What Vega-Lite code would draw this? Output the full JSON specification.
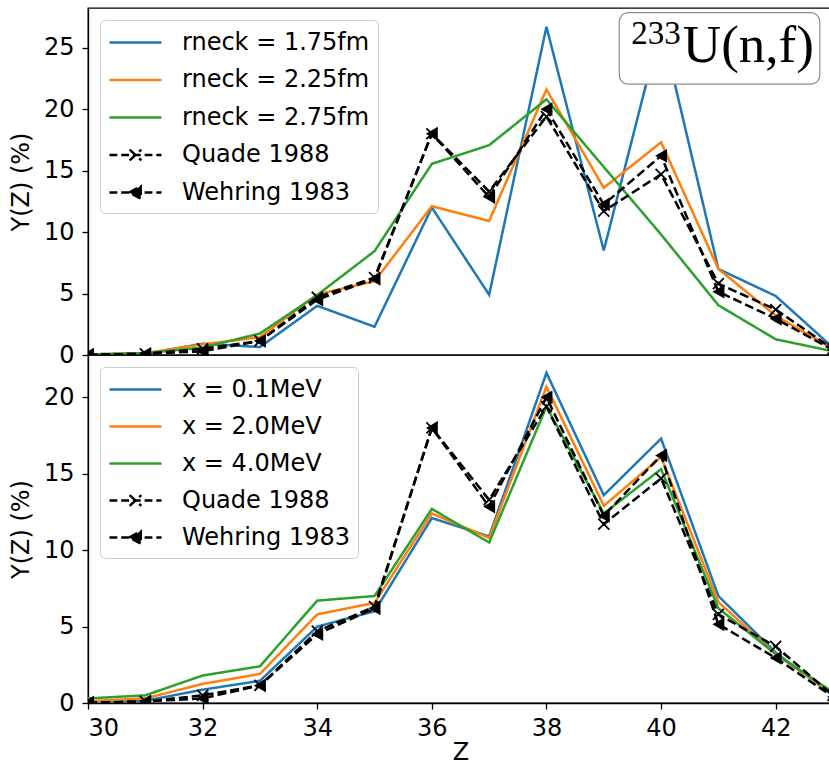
{
  "$schema": "https://vega.github.io/schema/vega-lite/v6.json",
  "padding": {"left": 8, "top": 7, "right": 0, "bottom": 0},
  "background": "white",
  "datasets": {
    "top": [
      {"Z":30,"Y":0.05,"series":"rneck = 1.75fm"},{"Z":31,"Y":0.1,"series":"rneck = 1.75fm"},{"Z":32,"Y":0.92,"series":"rneck = 1.75fm"},{"Z":33,"Y":0.65,"series":"rneck = 1.75fm"},{"Z":34,"Y":4.0,"series":"rneck = 1.75fm"},{"Z":35,"Y":2.3,"series":"rneck = 1.75fm"},{"Z":36,"Y":12.0,"series":"rneck = 1.75fm"},{"Z":37,"Y":4.9,"series":"rneck = 1.75fm"},{"Z":38,"Y":26.7,"series":"rneck = 1.75fm"},{"Z":39,"Y":8.5,"series":"rneck = 1.75fm"},{"Z":40,"Y":26.8,"series":"rneck = 1.75fm"},{"Z":41,"Y":7.0,"series":"rneck = 1.75fm"},{"Z":42,"Y":4.8,"series":"rneck = 1.75fm"},{"Z":43,"Y":0.6,"series":"rneck = 1.75fm"},
      {"Z":30,"Y":0.05,"series":"rneck = 2.25fm"},{"Z":31,"Y":0.15,"series":"rneck = 2.25fm"},{"Z":32,"Y":0.87,"series":"rneck = 2.25fm"},{"Z":33,"Y":1.45,"series":"rneck = 2.25fm"},{"Z":34,"Y":4.93,"series":"rneck = 2.25fm"},{"Z":35,"Y":6.0,"series":"rneck = 2.25fm"},{"Z":36,"Y":12.1,"series":"rneck = 2.25fm"},{"Z":37,"Y":10.9,"series":"rneck = 2.25fm"},{"Z":38,"Y":21.6,"series":"rneck = 2.25fm"},{"Z":39,"Y":13.6,"series":"rneck = 2.25fm"},{"Z":40,"Y":17.3,"series":"rneck = 2.25fm"},{"Z":41,"Y":7.0,"series":"rneck = 2.25fm"},{"Z":42,"Y":3.2,"series":"rneck = 2.25fm"},{"Z":43,"Y":0.5,"series":"rneck = 2.25fm"},
      {"Z":30,"Y":0.05,"series":"rneck = 2.75fm"},{"Z":31,"Y":0.15,"series":"rneck = 2.75fm"},{"Z":32,"Y":0.6,"series":"rneck = 2.75fm"},{"Z":33,"Y":1.75,"series":"rneck = 2.75fm"},{"Z":34,"Y":4.88,"series":"rneck = 2.75fm"},{"Z":35,"Y":8.45,"series":"rneck = 2.75fm"},{"Z":36,"Y":15.55,"series":"rneck = 2.75fm"},{"Z":37,"Y":17.07,"series":"rneck = 2.75fm"},{"Z":38,"Y":20.8,"series":"rneck = 2.75fm"},{"Z":39,"Y":15.3,"series":"rneck = 2.75fm"},{"Z":40,"Y":9.8,"series":"rneck = 2.75fm"},{"Z":41,"Y":4.05,"series":"rneck = 2.75fm"},{"Z":42,"Y":1.28,"series":"rneck = 2.75fm"},{"Z":43,"Y":0.3,"series":"rneck = 2.75fm"},
      {"Z":30,"Y":0.02,"series":"Quade 1988"},{"Z":31,"Y":0.1,"series":"Quade 1988"},{"Z":32,"Y":0.5,"series":"Quade 1988"},{"Z":33,"Y":1.15,"series":"Quade 1988"},{"Z":34,"Y":4.7,"series":"Quade 1988"},{"Z":35,"Y":6.3,"series":"Quade 1988"},{"Z":36,"Y":18.0,"series":"Quade 1988"},{"Z":37,"Y":13.3,"series":"Quade 1988"},{"Z":38,"Y":19.4,"series":"Quade 1988"},{"Z":39,"Y":11.7,"series":"Quade 1988"},{"Z":40,"Y":14.7,"series":"Quade 1988"},{"Z":41,"Y":5.8,"series":"Quade 1988"},{"Z":42,"Y":3.7,"series":"Quade 1988"},{"Z":43,"Y":0.5,"series":"Quade 1988"},
      {"Z":30,"Y":0.02,"series":"Wehring 1983"},{"Z":31,"Y":0.1,"series":"Wehring 1983"},{"Z":32,"Y":0.3,"series":"Wehring 1983"},{"Z":33,"Y":1.15,"series":"Wehring 1983"},{"Z":34,"Y":4.5,"series":"Wehring 1983"},{"Z":35,"Y":6.2,"series":"Wehring 1983"},{"Z":36,"Y":18.0,"series":"Wehring 1983"},{"Z":37,"Y":12.85,"series":"Wehring 1983"},{"Z":38,"Y":20.0,"series":"Wehring 1983"},{"Z":39,"Y":12.25,"series":"Wehring 1983"},{"Z":40,"Y":16.2,"series":"Wehring 1983"},{"Z":41,"Y":5.15,"series":"Wehring 1983"},{"Z":42,"Y":2.95,"series":"Wehring 1983"},{"Z":43,"Y":0.4,"series":"Wehring 1983"}
    ],
    "bottom": [
      {"Z":30,"Y":0.05,"series":"x = 0.1MeV"},{"Z":31,"Y":0.15,"series":"x = 0.1MeV"},{"Z":32,"Y":0.87,"series":"x = 0.1MeV"},{"Z":33,"Y":1.45,"series":"x = 0.1MeV"},{"Z":34,"Y":5.0,"series":"x = 0.1MeV"},{"Z":35,"Y":6.0,"series":"x = 0.1MeV"},{"Z":36,"Y":12.1,"series":"x = 0.1MeV"},{"Z":37,"Y":10.9,"series":"x = 0.1MeV"},{"Z":38,"Y":21.6,"series":"x = 0.1MeV"},{"Z":39,"Y":13.6,"series":"x = 0.1MeV"},{"Z":40,"Y":17.3,"series":"x = 0.1MeV"},{"Z":41,"Y":7.0,"series":"x = 0.1MeV"},{"Z":42,"Y":3.3,"series":"x = 0.1MeV"},{"Z":43,"Y":0.5,"series":"x = 0.1MeV"},
      {"Z":30,"Y":0.12,"series":"x = 2.0MeV"},{"Z":31,"Y":0.3,"series":"x = 2.0MeV"},{"Z":32,"Y":1.25,"series":"x = 2.0MeV"},{"Z":33,"Y":1.9,"series":"x = 2.0MeV"},{"Z":34,"Y":5.8,"series":"x = 2.0MeV"},{"Z":35,"Y":6.55,"series":"x = 2.0MeV"},{"Z":36,"Y":12.4,"series":"x = 2.0MeV"},{"Z":37,"Y":10.8,"series":"x = 2.0MeV"},{"Z":38,"Y":20.7,"series":"x = 2.0MeV"},{"Z":39,"Y":12.9,"series":"x = 2.0MeV"},{"Z":40,"Y":16.1,"series":"x = 2.0MeV"},{"Z":41,"Y":6.6,"series":"x = 2.0MeV"},{"Z":42,"Y":3.2,"series":"x = 2.0MeV"},{"Z":43,"Y":0.6,"series":"x = 2.0MeV"},
      {"Z":30,"Y":0.3,"series":"x = 4.0MeV"},{"Z":31,"Y":0.5,"series":"x = 4.0MeV"},{"Z":32,"Y":1.8,"series":"x = 4.0MeV"},{"Z":33,"Y":2.4,"series":"x = 4.0MeV"},{"Z":34,"Y":6.7,"series":"x = 4.0MeV"},{"Z":35,"Y":7.0,"series":"x = 4.0MeV"},{"Z":36,"Y":12.7,"series":"x = 4.0MeV"},{"Z":37,"Y":10.5,"series":"x = 4.0MeV"},{"Z":38,"Y":19.4,"series":"x = 4.0MeV"},{"Z":39,"Y":12.4,"series":"x = 4.0MeV"},{"Z":40,"Y":15.3,"series":"x = 4.0MeV"},{"Z":41,"Y":6.2,"series":"x = 4.0MeV"},{"Z":42,"Y":3.2,"series":"x = 4.0MeV"},{"Z":43,"Y":0.7,"series":"x = 4.0MeV"},
      {"Z":30,"Y":0.02,"series":"Quade 1988"},{"Z":31,"Y":0.1,"series":"Quade 1988"},{"Z":32,"Y":0.5,"series":"Quade 1988"},{"Z":33,"Y":1.15,"series":"Quade 1988"},{"Z":34,"Y":4.7,"series":"Quade 1988"},{"Z":35,"Y":6.3,"series":"Quade 1988"},{"Z":36,"Y":18.0,"series":"Quade 1988"},{"Z":37,"Y":13.3,"series":"Quade 1988"},{"Z":38,"Y":19.4,"series":"Quade 1988"},{"Z":39,"Y":11.7,"series":"Quade 1988"},{"Z":40,"Y":14.7,"series":"Quade 1988"},{"Z":41,"Y":5.8,"series":"Quade 1988"},{"Z":42,"Y":3.7,"series":"Quade 1988"},{"Z":43,"Y":0.5,"series":"Quade 1988"},
      {"Z":30,"Y":0.02,"series":"Wehring 1983"},{"Z":31,"Y":0.1,"series":"Wehring 1983"},{"Z":32,"Y":0.3,"series":"Wehring 1983"},{"Z":33,"Y":1.15,"series":"Wehring 1983"},{"Z":34,"Y":4.5,"series":"Wehring 1983"},{"Z":35,"Y":6.2,"series":"Wehring 1983"},{"Z":36,"Y":18.0,"series":"Wehring 1983"},{"Z":37,"Y":12.85,"series":"Wehring 1983"},{"Z":38,"Y":20.0,"series":"Wehring 1983"},{"Z":39,"Y":12.25,"series":"Wehring 1983"},{"Z":40,"Y":16.2,"series":"Wehring 1983"},{"Z":41,"Y":5.15,"series":"Wehring 1983"},{"Z":42,"Y":2.95,"series":"Wehring 1983"},{"Z":43,"Y":0.4,"series":"Wehring 1983"}
    ]
  },
  "vconcat": [
    {
      "width": 745,
      "height": 347,
      "layer": [
        {
          "data": {"name": "top"},
          "mark": {"type": "line", "strokeWidth": 2.5, "clip": true},
          "encoding": {
            "x": {"field": "Z", "type": "quantitative", "scale": {"domain": [30, 43], "nice": false, "zero": false}, "axis": null},
            "y": {"field": "Y", "type": "quantitative", "scale": {"domain": [0, 28.23], "nice": false}, "axis": {"values": [0, 5, 10, 15, 20, 25], "title": "Y(Z) (%)"}},
            "color": {"field": "series", "type": "nominal",
              "scale": {"domain": ["rneck = 1.75fm", "rneck = 2.25fm", "rneck = 2.75fm", "Quade 1988", "Wehring 1983"], "range": ["#1f77b4", "#ff7f0e", "#2ca02c", "black", "black"]},
              "legend": {
                "title": null, "orient": "top-left", "offset": 12, "padding": 8, "symbolSize": 676, "labelOffset": 45, "rowPadding": 10.5,
                "symbolStrokeWidth": 2.5, "labelFontSize": 24, "labelFont": "DejaVu Sans", "labelColor": "black", "labelLimit": 400,
                "fillColor": "rgba(255,255,255,0.8)", "strokeColor": "#cccccc", "cornerRadius": 5,
                "encode": {"symbols": {"update": {
                  "shape": {"signal": "datum.value === 'Quade 1988' ? 'M-1,0H-0.4M-0.1,0H0.5M0.8,0H1.4M1.7,0H2.3M2.6,0H3M0.55,-0.42L1.45,0.42M0.55,0.42L1.45,-0.42' : datum.value === 'Wehring 1983' ? 'M-1,0H-0.4M-0.1,0H0.5M0.8,0H1.4M1.7,0H2.3M2.6,0H3M0.52,0L1.4,-0.48L1.4,0.48Z' : 'M-1,0H3'"},
                  "fill": {"signal": "datum.value === 'Wehring 1983' ? 'black' : 'transparent'"}
                }}}
              }
            },
            "strokeDash": {"field": "series", "type": "nominal",
              "scale": {"domain": ["rneck = 1.75fm", "rneck = 2.25fm", "rneck = 2.75fm", "Quade 1988", "Wehring 1983"], "range": [[1, 0], [1, 0], [1, 0], [9, 4], [9, 4]]},
              "legend": null}
          }
        },
        {
          "data": {"name": "top"},
          "transform": [{"filter": "datum.series === 'Quade 1988'"}],
          "mark": {"type": "point", "shape": "M-1,-1L1,1M-1,1L1,-1", "filled": false, "stroke": "black", "strokeWidth": 1.8, "size": 120, "opacity": 1, "clip": true},
          "encoding": {
            "x": {"field": "Z", "type": "quantitative"},
            "y": {"field": "Y", "type": "quantitative"}
          }
        },
        {
          "data": {"name": "top"},
          "transform": [{"filter": "datum.series === 'Wehring 1983'"}],
          "mark": {"type": "point", "shape": "triangle-left", "filled": true, "color": "black", "size": 190, "opacity": 1, "clip": true},
          "encoding": {
            "x": {"field": "Z", "type": "quantitative"},
            "y": {"field": "Y", "type": "quantitative"}
          }
        },
        {
          "data": {"values": [{"note": "233U(n,f)"}]},
          "mark": {"type": "rect", "fill": "white", "stroke": "#8c8c8c", "strokeWidth": 1.2, "cornerRadius": 9},
          "encoding": {
            "x": {"datum": 39.27},
            "x2": {"datum": 42.77},
            "y": {"datum": 27.85},
            "y2": {"datum": 22.03}
          }
        },
        {
          "data": {"values": [{"label": "233"}]},
          "mark": {"type": "text", "font": "Liberation Serif", "fontSize": 33, "align": "left", "baseline": "alphabetic", "fill": "black"},
          "encoding": {
            "x": {"datum": 39.48},
            "y": {"datum": 25.28},
            "text": {"field": "label", "type": "nominal"}
          }
        },
        {
          "data": {"values": [{"label": "U(n,f)"}]},
          "mark": {"type": "text", "font": "Liberation Serif", "fontSize": 53, "align": "left", "baseline": "alphabetic", "fill": "black"},
          "encoding": {
            "x": {"datum": 40.38},
            "y": {"datum": 23.84},
            "text": {"field": "label", "type": "nominal"}
          }
        }
      ]
    },
    {
      "width": 745,
      "height": 348,
      "data": {"name": "bottom"},
      "encoding": {
        "x": {"field": "Z", "type": "quantitative", "scale": {"domain": [30, 43], "nice": false, "zero": false}, "axis": {"values": [30, 32, 34, 36, 38, 40, 42], "title": "Z", "labelPadding": 7, "titlePadding": 0}},
        "y": {"field": "Y", "type": "quantitative", "scale": {"domain": [0, 22.77], "nice": false}, "axis": {"values": [0, 5, 10, 15, 20], "title": "Y(Z) (%)"}}
      },
      "layer": [
        {
          "mark": {"type": "line", "strokeWidth": 2.5, "clip": true},
          "encoding": {
            "color": {"field": "series", "type": "nominal",
              "scale": {"domain": ["x = 0.1MeV", "x = 2.0MeV", "x = 4.0MeV", "Quade 1988", "Wehring 1983"], "range": ["#1f77b4", "#ff7f0e", "#2ca02c", "black", "black"]},
              "legend": {
                "title": null, "orient": "top-left", "offset": 12, "padding": 8, "symbolSize": 676, "labelOffset": 45, "rowPadding": 10,
                "symbolStrokeWidth": 2.5, "labelFontSize": 24, "labelFont": "DejaVu Sans", "labelColor": "black", "labelLimit": 400,
                "fillColor": "rgba(255,255,255,0.8)", "strokeColor": "#cccccc", "cornerRadius": 5,
                "encode": {"symbols": {"update": {
                  "shape": {"signal": "datum.value === 'Quade 1988' ? 'M-1,0H-0.4M-0.1,0H0.5M0.8,0H1.4M1.7,0H2.3M2.6,0H3M0.55,-0.42L1.45,0.42M0.55,0.42L1.45,-0.42' : datum.value === 'Wehring 1983' ? 'M-1,0H-0.4M-0.1,0H0.5M0.8,0H1.4M1.7,0H2.3M2.6,0H3M0.52,0L1.4,-0.48L1.4,0.48Z' : 'M-1,0H3'"},
                  "fill": {"signal": "datum.value === 'Wehring 1983' ? 'black' : 'transparent'"}
                }}}
              }
            },
            "strokeDash": {"field": "series", "type": "nominal",
              "scale": {"domain": ["x = 0.1MeV", "x = 2.0MeV", "x = 4.0MeV", "Quade 1988", "Wehring 1983"], "range": [[1, 0], [1, 0], [1, 0], [9, 4], [9, 4]]},
              "legend": null}
          }
        },
        {
          "transform": [{"filter": "datum.series === 'Quade 1988'"}],
          "mark": {"type": "point", "shape": "M-1,-1L1,1M-1,1L1,-1", "filled": false, "stroke": "black", "strokeWidth": 1.8, "size": 120, "opacity": 1, "clip": true}
        },
        {
          "transform": [{"filter": "datum.series === 'Wehring 1983'"}],
          "mark": {"type": "point", "shape": "triangle-left", "filled": true, "color": "black", "size": 190, "opacity": 1, "clip": true}
        }
      ]
    }
  ],
  "spacing": 0,
  "bounds": "flush",
  "resolve": {
    "scale": {"color": "independent", "strokeDash": "independent", "x": "independent", "y": "independent"},
    "legend": {"color": "independent", "strokeDash": "independent"}
  },
  "config": {
    "font": "DejaVu Sans",
    "view": {"stroke": "black", "strokeWidth": 1.3},
    "axis": {
      "grid": false, "domainColor": "black", "domainWidth": 1.3, "tickColor": "black", "tickWidth": 1.3, "tickSize": 6,
      "labelFont": "DejaVu Sans", "labelFontSize": 24, "labelColor": "black", "labelPadding": 8,
      "titleFont": "DejaVu Sans", "titleFontSize": 24, "titleFontWeight": "normal", "titleColor": "black", "titlePadding": 10
    }
  }
}
